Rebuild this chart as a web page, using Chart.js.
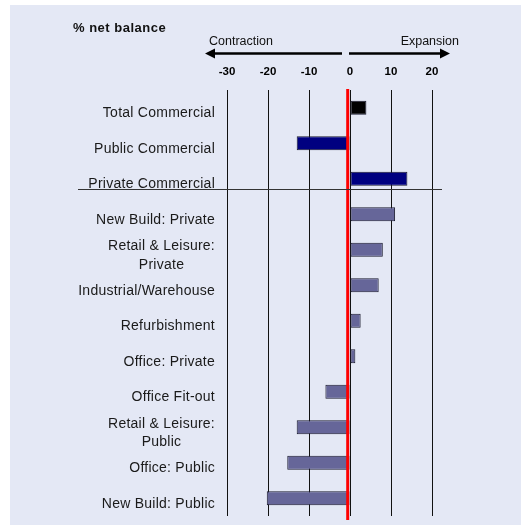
<!DOCTYPE html>
<html>
<head>
<meta charset="utf-8">
<script src="https://cdn.jsdelivr.net/npm/chart.js@4/dist/chart.umd.min.js"></script>
<style>
  body { margin: 0; background: #fff; }
  #wrap { position: relative; width: 521px; height: 525px; }
</style>
</head>
<body>
<div id="wrap"><canvas id="balanceChart" width="521" height="525"></canvas></div>
<script>
// data
const categories = [
  "Total Commercial", "Public Commercial", "Private Commercial",
  "New Build: Private", ["Retail & Leisure:", "Private"], "Industrial/Warehouse",
  "Refurbishment", "Office: Private", "Office Fit-out",
  ["Retail & Leisure:", "Public"], "Office: Public", "New Build: Public"
];
const netBalance = [4, -13, 14, 11, 8, 7, 2.6, 1.3, -6, -13, -15.3, -20.3];
const barGroups = ["total", "sector", "sector", "detail", "detail", "detail", "detail", "detail", "detail", "detail", "detail", "detail"];
const xTicks = [-30, -20, -10, 0, 10, 20];

const groupColours = { total: "#000000", sector: "#000080", detail: "#666699" };
const FONT = "'Liberation Sans', Arial, sans-serif";

// panel, header, arrows, separator, zero line and category labels
const decor = {
  id: "decor",
  beforeDraw(chart) {
    const ctx = chart.ctx;
    ctx.save();
    ctx.fillStyle = "#e4e8f5";
    ctx.fillRect(10, 5, 511, 520);
    ctx.restore();
  },
  afterDatasetsDraw(chart) {
    const ctx = chart.ctx;
    const x = chart.scales.x, y = chart.scales.y;
    const zero = x.getPixelForValue(0);
    ctx.save();

    // red zero line
    ctx.strokeStyle = "#ff0000";
    ctx.lineWidth = 3;
    ctx.beginPath();
    ctx.moveTo(zero - 2.3, 89);
    ctx.lineTo(zero - 2.3, 520);
    ctx.stroke();

    // separator under the commercial totals
    const sepY = Math.round((y.getPixelForValue(2) + y.getPixelForValue(3)) / 2) - 7.5;
    ctx.strokeStyle = "#333";
    ctx.lineWidth = 1;
    ctx.beginPath();
    ctx.moveTo(78, sepY);
    ctx.lineTo(442, sepY);
    ctx.stroke();

    // title
    ctx.fillStyle = "#111";
    ctx.textBaseline = "alphabetic";
    ctx.textAlign = "left";
    ctx.font = "bold 13px " + FONT;
    ctx.letterSpacing = "0.5px";
    ctx.fillText("% net balance", 73, 32);
    ctx.letterSpacing = "0px";

    // contraction / expansion
    ctx.font = "12.5px " + FONT;
    ctx.fillText("Contraction", 209, 45);
    ctx.textAlign = "right";
    ctx.fillText("Expansion", 459, 45);

    const ay = 53.5;
    ctx.strokeStyle = "#000";
    ctx.fillStyle = "#000";
    ctx.lineWidth = 2.5;
    ctx.beginPath();
    ctx.moveTo(342, ay); ctx.lineTo(212, ay);
    ctx.moveTo(349, ay); ctx.lineTo(443, ay);
    ctx.stroke();
    ctx.beginPath();
    ctx.moveTo(205, ay); ctx.lineTo(215, ay - 5); ctx.lineTo(215, ay + 5); ctx.closePath();
    ctx.moveTo(450, ay); ctx.lineTo(440, ay - 5); ctx.lineTo(440, ay + 5); ctx.closePath();
    ctx.fill();

    // category labels
    ctx.fillStyle = "#1a1a1a";
    ctx.font = "14px " + FONT;
    ctx.letterSpacing = "0.25px";
    const right = 215;
    categories.forEach((label, i) => {
      const c = y.getPixelForValue(i);
      if (Array.isArray(label)) {
        const widths = label.map(t => ctx.measureText(t).width);
        const mid = right - Math.max(...widths) / 2;
        ctx.textAlign = "center";
        label.forEach((t, k) => ctx.fillText(t, mid, c + 0.5 + k * 18.5));
      } else {
        ctx.textAlign = "right";
        ctx.fillText(label, right, c + 9.5);
      }
    });
    ctx.letterSpacing = "0px";
    ctx.restore();
  }
};

new Chart(document.getElementById("balanceChart"), {
  type: "bar",
  data: {
    labels: categories,
    datasets: [{
      data: netBalance,
      backgroundColor: barGroups.map(g => groupColours[g]),
      borderColor: "#1a1a2e",
      borderWidth: 1,
      borderSkipped: false,
      barPercentage: 0.8,
      categoryPercentage: 0.5
    }]
  },
  options: {
    indexAxis: "y",
    responsive: false,
    animation: false,
    devicePixelRatio: 1,
    layout: { padding: { left: 227, right: 89, top: 60, bottom: 9 } },
    plugins: { legend: { display: false }, tooltip: { enabled: false } },
    scales: {
      x: {
        position: "top",
        min: -30,
        max: 20,
        afterBuildTicks: s => { s.ticks = xTicks.map(v => ({ value: v })); },
        afterFit: s => { s.height = 30; },
        ticks: {
          color: "#000",
          padding: 11,
          font: { family: FONT, size: 11.5, weight: "bold" }
        },
        grid: { color: "#111", lineWidth: 1, drawTicks: false },
        border: { display: false }
      },
      y: {
        display: false,
        grid: { display: false }
      }
    }
  },
  plugins: [decor]
});
</script>
</body>
</html>
